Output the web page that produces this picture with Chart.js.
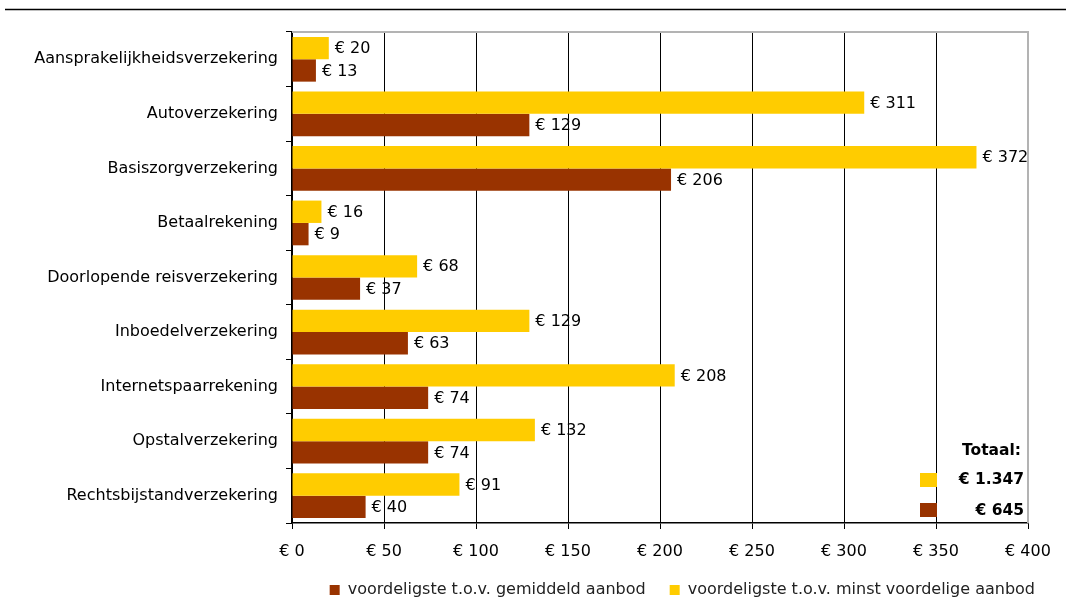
<!DOCTYPE html>
<html>
<head>
  <meta charset="utf-8">
  <script src="https://cdn.jsdelivr.net/npm/chart.js@4/dist/chart.umd.min.js"></script>
  <style>
    html, body { margin: 0; padding: 0; background: #fff; }
    #wrap { width: 1066px; height: 608px; }
  </style>
</head>
<body>
<div id="wrap"><canvas id="besparingChart"></canvas></div>

<script type="text/javascript">
  // Producten
  const producten = [
    'Aansprakelijkheidsverzekering',
    'Autoverzekering',
    'Basiszorgverzekering',
    'Betaalrekening',
    'Doorlopende reisverzekering',
    'Inboedelverzekering',
    'Internetspaarrekening',
    'Opstalverzekering',
    'Rechtsbijstandverzekering'
  ];

  // Besparing in euro's
  const minstVoordelig = [20, 311, 372, 16, 68, 129, 208, 132, 91];
  const gemiddeld      = [13, 129, 206, 9, 37, 63, 74, 74, 40];

  const totaalLabels = ['Totaal:', '€ 1.347', '€ 645'];

  const GEEL = '#ffcc00';
  const BRUIN = '#993300';
  const FONT = "'DejaVu Sans', Verdana, sans-serif";

  // waarde achter elke balk
  const waardeLabels = {
    id: 'waardeLabels',
    afterDatasetsDraw(chart) {
      const ctx = chart.ctx;
      ctx.save();
      ctx.font = '16px ' + FONT;
      ctx.fillStyle = '#000';
      ctx.textAlign = 'left';
      ctx.textBaseline = 'middle';
      chart.data.datasets.forEach((ds, i) => {
        chart.getDatasetMeta(i).data.forEach((bar, j) => {
          ctx.fillText('€ ' + ds.data[j], bar.x + 6, bar.y + 1);
        });
      });
      ctx.restore();
    }
  };

  // legenda iets naar rechts schuiven
  const legendaSchuif = {
    id: 'legendaSchuif',
    afterLayout(chart) {
      const lg = chart.legend;
      if (!lg) return;
      lg.left += 31; lg.right += 31;
      lg.top -= 6; lg.bottom -= 6;
    }
  };

  // lijn bovenaan, grijze rand en totaalblok
  const extras = {
    id: 'extras',
    beforeDraw(chart) {
      const ctx = chart.ctx;
      ctx.save();
      ctx.fillStyle = '#fff';
      ctx.fillRect(0, 0, chart.width, chart.height);
      ctx.strokeStyle = '#000';
      ctx.lineWidth = 1.5;
      ctx.beginPath();
      ctx.moveTo(5, 9.5);
      ctx.lineTo(chart.width, 9.5);
      ctx.stroke();
      ctx.restore();
    },
    afterDraw(chart) {
      const ctx = chart.ctx;
      const a = chart.chartArea;
      ctx.save();
      ctx.strokeStyle = '#b3b3b3';
      ctx.lineWidth = 2;
      ctx.beginPath();
      ctx.moveTo(a.left, a.top);
      ctx.lineTo(a.right, a.top);
      ctx.lineTo(a.right, a.bottom);
      ctx.stroke();

      ctx.font = 'bold 15.5px ' + FONT;
      ctx.fillStyle = '#000';
      ctx.textAlign = 'right';
      ctx.textBaseline = 'middle';
      ctx.fillText(totaalLabels[0], a.right - 7, 451);
      ctx.fillText(totaalLabels[1], a.right - 4, 480);
      ctx.fillText(totaalLabels[2], a.right - 4, 511);
      ctx.fillStyle = GEEL;
      ctx.fillRect(920, 473, 17, 14);
      ctx.fillStyle = BRUIN;
      ctx.fillRect(920, 503, 17, 14);
      ctx.restore();
    }
  };

  const ctx = document.getElementById('besparingChart').getContext('2d');

  new Chart(ctx, {
    type: 'bar',
    data: {
      labels: producten,
      datasets: [
        {
          label: 'voordeligste t.o.v. minst voordelige aanbod',
          data: minstVoordelig,
          backgroundColor: GEEL,
          categoryPercentage: 0.82,
          barPercentage: 1.0
        },
        {
          label: 'voordeligste t.o.v. gemiddeld aanbod',
          data: gemiddeld,
          backgroundColor: BRUIN,
          categoryPercentage: 0.82,
          barPercentage: 1.0
        }
      ]
    },
    options: {
      indexAxis: 'y',
      responsive: true,
      maintainAspectRatio: false,
      animation: false,
      layout: { padding: { top: 32, right: 38, left: 0, bottom: 4 } },
      plugins: {
        legend: {
          position: 'bottom',
          align: 'end',
          reverse: true,
          maxHeight: 40,
          labels: {
            boxWidth: 10,
            boxHeight: 10,
            padding: 24,
            color: '#222',
            font: { family: FONT, size: 16 }
          }
        },
        tooltip: { enabled: false }
      },
      scales: {
        x: {
          min: 0,
          max: 400,
          ticks: {
            stepSize: 50,
            padding: 13,
            color: '#000',
            font: { family: FONT, size: 16 },
            callback: (v) => '€ ' + v
          },
          grid: {
            color: (c) => c.index === 8 ? '#b3b3b3' : '#000',
            lineWidth: 1,
            tickLength: 6,
            tickColor: '#000'
          },
          border: { display: true, color: '#000', width: 1.5 },
          afterFit(scale) { scale.height = 41; }
        },
        y: {
          ticks: {
            padding: 8,
            color: '#000',
            font: { family: FONT, size: 16 }
          },
          grid: {
            offset: true,
            drawOnChartArea: false,
            tickLength: 6,
            color: '#000'
          },
          border: { display: true, color: '#000', width: 1.5 },
          afterFit(scale) { scale.width = 292; }
        }
      }
    },
    plugins: [waardeLabels, legendaSchuif, extras]
  });
</script>
</body>
</html>
